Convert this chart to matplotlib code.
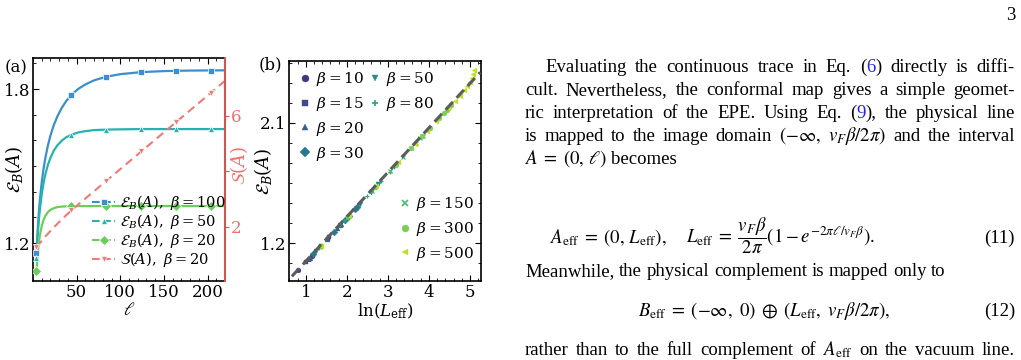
import matplotlib
matplotlib.use('Agg')
import matplotlib.pyplot as plt
from matplotlib.lines import Line2D
from matplotlib.legend import Legend
from matplotlib.ticker import FixedLocator, MultipleLocator, FormatStrFormatter

# ---- panel (a): E_B(A) vs ell for three temperatures, S(A) on the right axis
ell_curve = [4, 5, 6, 7, 8, 10, 12, 14, 17, 20, 24, 28, 33, 38, 44, 52, 60, 70, 84, 100, 124, 150, 180, 220]
eb_curve_b100 = [1.161, 1.230, 1.286, 1.332, 1.372, 1.436, 1.487, 1.529, 1.579, 1.619, 1.661, 1.694,
                 1.727, 1.753, 1.777, 1.801, 1.818, 1.834, 1.848, 1.858, 1.866, 1.870, 1.872, 1.873]
eb_curve_b50 = [1.143, 1.207, 1.258, 1.300, 1.334, 1.390, 1.432, 1.465, 1.504, 1.532, 1.561, 1.581,
                1.599, 1.612, 1.622, 1.631, 1.636, 1.640, 1.642, 1.643, 1.644, 1.644, 1.644, 1.644]
eb_curve_b20 = [1.090, 1.141, 1.179, 1.209, 1.232, 1.266, 1.289, 1.305, 1.320, 1.329, 1.336, 1.340,
                1.342, 1.343, 1.344, 1.344, 1.344, 1.344, 1.344, 1.344, 1.344, 1.344, 1.344, 1.344]
ell_marks = [4, 44, 84, 124, 164, 204]
eb_marks_b100 = [1.161, 1.777, 1.848, 1.866, 1.871, 1.872]
eb_marks_b50 = [1.143, 1.622, 1.642, 1.644, 1.644, 1.644]
eb_marks_b20 = [1.090, 1.344, 1.344, 1.344, 1.344, 1.344]
ell_s = [4, 14, 24, 34, 44, 84, 124, 164, 204, 220]
s_curve_b20 = [1.27, 1.65, 1.99, 2.30, 2.60, 3.66, 4.72, 5.78, 6.84, 7.27]
s_marks_b20 = [1.27, 2.60, 3.66, 4.72, 5.78, 6.84]

# ---- panel (b): E_B(A) vs ln(L_eff), collapse for many beta
betas = [10, 15, 20, 30, 50, 80, 150, 300, 500]
lnL_b10 = [0.82, 1.07, 1.15, 1.16]
eb_b10 = [0.995, 1.079, 1.105, 1.109]
lnL_b15 = [1.00, 1.36, 1.53, 1.56]
eb_b15 = [1.055, 1.175, 1.232, 1.242]
lnL_b20 = [1.09, 1.52, 1.77, 1.84, 1.85]
eb_b20 = [1.085, 1.229, 1.312, 1.335, 1.339]
lnL_b30 = [1.18, 1.69, 1.95, 2.05, 2.20, 2.25]
eb_b30 = [1.115, 1.285, 1.372, 1.405, 1.455, 1.472]
lnL_b50 = [1.26, 1.84, 2.31, 2.58, 2.70, 2.75, 2.76]
eb_b50 = [1.142, 1.335, 1.492, 1.582, 1.622, 1.639, 1.642]
lnL_b80 = [1.31, 1.93, 2.48, 2.83, 3.04, 3.15, 3.20, 3.23]
eb_b80 = [1.159, 1.365, 1.549, 1.665, 1.735, 1.772, 1.789, 1.799]
lnL_b150 = [1.35, 2.00, 2.61, 3.05, 3.36, 3.56, 3.68, 3.79, 3.83, 3.85]
eb_b150 = [1.172, 1.389, 1.592, 1.739, 1.842, 1.909, 1.949, 1.985, 1.999, 2.005]
lnL_b300 = [1.37, 2.04, 2.69, 3.19, 3.56, 3.84, 4.02, 4.24, 4.36, 4.43, 4.50, 4.54]
eb_b300 = [1.179, 1.402, 1.619, 1.785, 1.909, 2.002, 2.062, 2.135, 2.175, 2.199, 2.222, 2.235]
lnL_b500 = [1.37, 2.05, 2.72, 3.25, 3.65, 3.96, 4.18, 4.46, 4.63, 4.75, 4.85, 4.93, 4.99, 5.04, 5.08, 5.11]
eb_b500 = [1.179, 1.405, 1.629, 1.805, 1.939, 2.042, 2.115, 2.209, 2.265, 2.305, 2.345, 2.375,
           2.405, 2.435, 2.465, 2.495]
fit_lnL = [0.66, 5.25]
fit_eb = [0.95, 2.48]

W, H = 1021, 360
C100, C50, C20, CS = '#3a8fcf', '#26b3ad', '#6bcd5b', '#ee7a7a'
VIR = ['#46327e', '#3e4a89', '#355f8d', '#2a788e', '#21918c', '#22a884', '#44bf70', '#7ad151', '#c2df23']
MARK = ['o', 's', '^', 'D', 'v', '+', 'x', 'o', '<']
LINK = '#2424e0'

plt.rcParams['font.family'] = 'DejaVu Serif'
plt.rcParams['mathtext.fontset'] = 'dejavuserif'

fig = plt.figure(figsize=(W / 100, H / 100), dpi=100)


def box(l, t, r, b):
    return [l / W, 1 - b / H, (r - l) / W, (b - t) / H]


# ---------------- (a)
ax = fig.add_axes(box(33, 58, 225, 281))
for ys, c in ((eb_curve_b100, C100), (eb_curve_b50, C50), (eb_curve_b20, C20)):
    ax.plot(ell_curve, ys, color=c, lw=1.6, zorder=2)
for ys, c, m in ((eb_marks_b100, C100, 's'), (eb_marks_b50, C50, '^'), (eb_marks_b20, C20, 'D')):
    ax.plot(ell_marks, ys, ls='none', marker=m, ms=5, color=c, mec='white', mew=0.5, zorder=3)
ax.set_xlim(0, 220)
ax.set_ylim(1.052, 1.921)
ax.xaxis.set_major_locator(FixedLocator([50, 100, 150, 200]))
ax.xaxis.set_minor_locator(MultipleLocator(10))
ax.yaxis.set_major_locator(FixedLocator([1.2, 1.8]))
ax.yaxis.set_minor_locator(MultipleLocator(0.1))
ax.yaxis.set_major_formatter(FormatStrFormatter('%.1f'))
ax.tick_params(which='both', direction='in', top=True, right=False, labelsize=12, pad=2)
ax.tick_params(which='major', length=4.5, width=0.8)
ax.tick_params(which='minor', length=2.5, width=0.6)
ax.spines['right'].set_visible(False)
for sp in ('left', 'top', 'bottom'):
    ax.spines[sp].set_linewidth(1.2)
ax.set_xlabel(r'$\ell$', fontsize=13)
ax.xaxis.set_label_coords(0.5, -0.088)
ax.set_ylabel(r'$\mathcal{E}_B(A)$', fontsize=13)
ax.yaxis.set_label_coords(-0.04, 0.5)

ax2 = ax.twinx()
ax2.plot(ell_s, s_curve_b20, color=CS, lw=1.5, ls=(0, (4, 2.5)), zorder=2)
ax2.plot(ell_marks, s_marks_b20, ls='none', marker='v', ms=5, color=CS, mec='white', mew=0.5, zorder=3)
ax2.set_ylim(0.05, 8.09)
ax2.yaxis.set_major_locator(FixedLocator([2, 4, 6]))
ax2.set_yticklabels(['2', '', '6'])
ax2.tick_params(axis='y', direction='out', length=3, color='#d05454', labelcolor='#f07070',
                labelsize=12, pad=1)
for sp in ('left', 'top', 'bottom'):
    ax2.spines[sp].set_visible(False)
ax2.spines['right'].set_color('#d05454')
ax2.spines['right'].set_linewidth(1.5)
ax2.set_ylabel(r'$\mathcal{S}(A)$', color='#f07070', fontsize=13, rotation=90)
ax2.yaxis.set_label_coords(1.015, 0.52)

handles = [Line2D([], [], color=C100, ls='--', marker='s', ms=5, mec='white', mew=0.5),
           Line2D([], [], color=C50, ls='--', marker='^', ms=5, mec='white', mew=0.5),
           Line2D([], [], color=C20, ls='--', marker='D', ms=5, mec='white', mew=0.5),
           Line2D([], [], color=CS, ls='--', marker='v', ms=5, mec='white', mew=0.5)]
labels = [r'$\mathcal{E}_B(A),\ \beta=100$', r'$\mathcal{E}_B(A),\ \beta=50$',
          r'$\mathcal{E}_B(A),\ \beta=20$', r'$\mathcal{S}(A),\ \beta=20$']
ax2.legend(handles, labels, loc='upper left', bbox_to_anchor=(92 / W, 1 - 193 / H),
           bbox_transform=fig.transFigure, frameon=False, fontsize=10.5, handlelength=1.6,
           handletextpad=0.3, labelspacing=0.0, borderpad=0, borderaxespad=0)
fig.text(5 / W, 1 - 68 / H, '(a)', fontsize=12, va='center')

# ---------------- (b)
bx = fig.add_axes(box(289, 61, 481, 281))
series = [(lnL_b10, eb_b10), (lnL_b15, eb_b15), (lnL_b20, eb_b20), (lnL_b30, eb_b30),
          (lnL_b50, eb_b50), (lnL_b80, eb_b80), (lnL_b150, eb_b150), (lnL_b300, eb_b300),
          (lnL_b500, eb_b500)]
for (xs, ys), c, m in zip(series, VIR, MARK):
    bx.plot(xs, ys, ls='none', marker=m, ms=3.5, color=c, mew=0.9 if m in '+x' else 0.3,
            mec=c, zorder=2)
bx.plot(fit_lnL, fit_eb, color='#5c5c5c', lw=2.2, ls=(0, (3.5, 1.8)), zorder=3)
bx.set_xlim(0.59, 5.27)
bx.set_ylim(0.915, 2.565)
bx.xaxis.set_major_locator(MultipleLocator(1))
bx.xaxis.set_minor_locator(MultipleLocator(0.2))
bx.yaxis.set_major_locator(FixedLocator([1.2, 2.1]))
bx.yaxis.set_minor_locator(MultipleLocator(0.15))
bx.yaxis.set_major_formatter(FormatStrFormatter('%.1f'))
bx.tick_params(which='both', direction='in', top=True, right=True, labelsize=12, pad=2)
bx.tick_params(which='major', length=4.5, width=0.8)
bx.tick_params(which='minor', length=2.5, width=0.6)
for sp in bx.spines.values():
    sp.set_linewidth(1.2)
bx.set_xlabel(r'$\ln(L_{\rm eff})$', fontsize=12)
bx.xaxis.set_label_coords(0.5, -0.095)
bx.set_ylabel(r'$\mathcal{E}_B(A)$', fontsize=13)
bx.yaxis.set_label_coords(-0.08, 0.5)
fig.text(259 / W, 1 - 65 / H, '(b)', fontsize=12, va='center')

proxies = [Line2D([], [], ls='none', marker=m, ms=5, color=c, mew=1.2 if m in '+x' else 0.3)
           for m, c in zip(MARK, VIR)]
blabels = [r'$\beta=%d$' % b for b in betas]
groups = [(slice(0, 4), 300, 70), (slice(4, 6), 370, 70), (slice(6, 9), 400, 195)]
for sl, lx, ty in groups:
    leg = Legend(bx, proxies[sl], blabels[sl], loc='upper left', bbox_to_anchor=(lx / W, 1 - ty / H),
                 bbox_transform=fig.transFigure, frameon=False, fontsize=11, handlelength=0.7,
                 handletextpad=0.35, labelspacing=0.45, borderpad=0, borderaxespad=0)
    bx.add_artist(leg)

# ---------------- text column
FS = 13.5
SPACE = 0.25 * FS * 100 / 72
renderer = fig.canvas.get_renderer()


def text_line(words, x0, x1, ybase, justify=True):
    items = []
    for w in words:
        segs = []
        for i, p in enumerate(w.split('|')):
            if not p:
                continue
            t = fig.text(0, 0, p, fontsize=FS, family='Liberation Serif', math_fontfamily='stix',
                         color=LINK if i % 2 else 'black', va='baseline', ha='left')
            segs.append((t, t.get_window_extent(renderer).width))
        items.append(segs)
    widths = [sum(s[1] for s in segs) for segs in items]
    gap = (x1 - x0 - sum(widths)) / (len(items) - 1) if justify else SPACE
    x = x0
    for segs in items:
        for t, wd in segs:
            t.set_position((x / W, 1 - ybase / H))
            x += wd
        x += gap


def eq_text(x, y, s, ha='left'):
    fig.text(x / W, 1 - y / H, s, fontsize=FS, family='Liberation Serif', math_fontfamily='stix',
             ha=ha, va='baseline')


XL, XR = 525, 1015
eq_text(XR, 20, '3', ha='right')
text_line('Evaluating the continuous trace in Eq. (|6|) directly is diffi-'.split(), 545, XR, 72)
text_line('cult. Nevertheless, the conformal map gives a simple geomet-'.split(), XL, XR, 95)
text_line('ric interpretation of the EPE. Using Eq. (|9|), the physical line'.split(), XL, XR, 118)
text_line(['is', 'mapped', 'to', 'the', 'image', 'domain', r'$(-\infty,$', r'$v_F\beta/2\pi)$',
           'and', 'the', 'interval'], XL, XR, 141)
text_line([r'$A\;=\;(0,\,\ell)$', 'becomes'], XL, XR, 164, justify=False)
eq_text(550, 243, r'$A_{\rm eff}\;=\;(0,\,L_{\rm eff}),$')
eq_text(686, 243, r'$L_{\rm eff}\;=\;\dfrac{v_F\beta}{2\pi}\left(1 - e^{-2\pi\ell/v_F\beta}\right).$')
eq_text(XR, 243, '(11)', ha='right')
text_line('Meanwhile, the physical complement is mapped only to'.split(), XL, XR, 276, justify=False)
eq_text(638, 316, r'$B_{\rm eff}\;=\;(-\infty,\ 0)\;\oplus\;(L_{\rm eff},\ v_F\beta/2\pi),$')
eq_text(XR, 316, '(12)', ha='right')
text_line(['rather', 'than', 'to', 'the', 'full', 'complement', 'of', r'$A_{\rm eff}$', 'on', 'the',
           'vacuum', 'line.'], XL, XR, 355)

fig.savefig('out.png', dpi=100)
